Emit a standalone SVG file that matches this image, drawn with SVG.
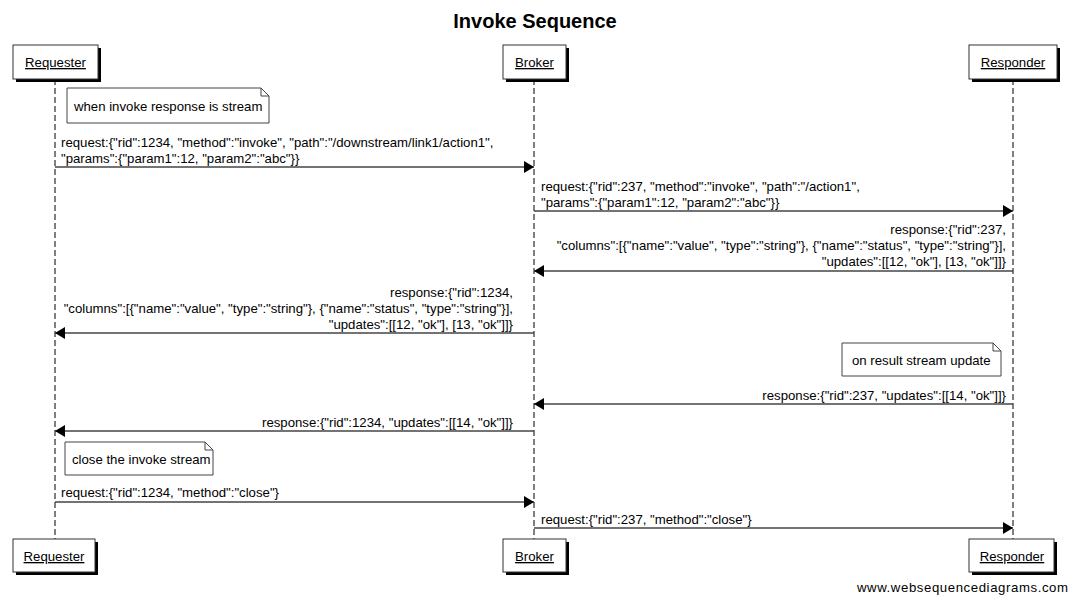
<svg xmlns="http://www.w3.org/2000/svg" width="1071" height="597" viewBox="0 0 1071 597">
<style>
text{font-family:"Liberation Sans",Arial,sans-serif;font-size:13.2px;fill:#000}
.title{font-size:20px;font-weight:bold}
.act{text-decoration:underline}
.box{fill:#fff;stroke:#333;stroke-width:1}
.shadow{fill:#000}
.life{stroke:#000;stroke-width:1;stroke-dasharray:6,3;fill:none}
.msg{stroke:#444;stroke-width:1.5;fill:none}
.note{fill:#fff;stroke:#444;stroke-width:1}
.r{text-anchor:end}
</style>
<defs>
<marker id="ah" viewBox="0 0 10 12" refX="10" refY="6" markerWidth="10" markerHeight="12" markerUnits="userSpaceOnUse" orient="auto">
<path d="M0,0 L10,6 L0,12 Z" fill="#000"/>
</marker>
</defs>
<rect width="1071" height="597" fill="#fff"/>
<text class="title" x="535" y="28" text-anchor="middle">Invoke Sequence</text>
<g id="lifelines">
<line class="life" x1="55" y1="79" x2="55" y2="539"/>
<line class="life" x1="534" y1="79" x2="534" y2="539"/>
<line class="life" x1="1013" y1="79" x2="1013" y2="539"/>
</g>
<g id="requester">
<rect class="shadow" x="16" y="48" width="85" height="34"/>
<rect class="box" x="13" y="45" width="85" height="34"/>
<text class="act" x="55.5" y="67" text-anchor="middle">Requester</text>
<rect class="shadow" x="16" y="542" width="82" height="33"/>
<rect class="box" x="13" y="539" width="82" height="33"/>
<text class="act" x="54" y="561" text-anchor="middle">Requester</text>
</g>
<g id="broker">
<rect class="shadow" x="506" y="48" width="63" height="34"/>
<rect class="box" x="503" y="45" width="63" height="34"/>
<text class="act" x="534.5" y="67" text-anchor="middle">Broker</text>
<rect class="shadow" x="506" y="542" width="63" height="33"/>
<rect class="box" x="503" y="539" width="63" height="33"/>
<text class="act" x="534.5" y="561" text-anchor="middle">Broker</text>
</g>
<g id="responder">
<rect class="shadow" x="972" y="48" width="88" height="34"/>
<rect class="box" x="969" y="45" width="88" height="34"/>
<text class="act" x="1013" y="67" text-anchor="middle">Responder</text>
<rect class="shadow" x="972" y="542" width="85" height="33"/>
<rect class="box" x="969" y="539" width="85" height="33"/>
<text class="act" x="1012" y="561" text-anchor="middle">Responder</text>
</g>
<g id="note1">
<path class="note" d="M67,88 H261 L269,96 V123 H67 Z M261,88 V96 H269"/>
<text x="74" y="111">when invoke response is stream</text>
</g>
<g id="note2">
<path class="note" d="M842,343 H993 L1001,351 V376 H842 Z M993,343 V351 H1001"/>
<text x="852" y="365">on result stream update</text>
</g>
<g id="note3">
<path class="note" d="M65,442 H205 L213,450 V475 H65 Z M205,442 V450 H213"/>
<text x="72" y="464">close the invoke stream</text>
</g>
<g id="connectors">
<line class="msg" x1="55" y1="167" x2="534" y2="167" marker-end="url(#ah)"/>
<line class="msg" x1="534" y1="211" x2="1013" y2="211" marker-end="url(#ah)"/>
<line class="msg" x1="1013" y1="271" x2="534" y2="271" marker-end="url(#ah)"/>
<line class="msg" x1="534" y1="333" x2="55" y2="333" marker-end="url(#ah)"/>
<line class="msg" x1="1013" y1="404" x2="534" y2="404" marker-end="url(#ah)"/>
<line class="msg" x1="534" y1="431" x2="55" y2="431" marker-end="url(#ah)"/>
<line class="msg" x1="55" y1="502" x2="534" y2="502" marker-end="url(#ah)"/>
<line class="msg" x1="534" y1="528" x2="1013" y2="528" marker-end="url(#ah)"/>
</g>
<g id="labels">
<text x="61" y="147">request:{"rid":1234, "method":"invoke", "path":"/downstream/link1/action1",</text>
<text x="61" y="163">"params":{"param1":12, "param2":"abc"}}</text>
<text x="541" y="191">request:{"rid":237, "method":"invoke", "path":"/action1",</text>
<text x="541" y="207">"params":{"param1":12, "param2":"abc"}}</text>
<text class="r" x="1006" y="234">response:{"rid":237,</text>
<text class="r" x="1006" y="250">"columns":[{"name":"value", "type":"string"}, {"name":"status", "type":"string"}],</text>
<text class="r" x="1006" y="266">"updates":[[12, "ok"], [13, "ok"]]}</text>
<text class="r" x="513" y="297">response:{"rid":1234,</text>
<text class="r" x="513" y="313">"columns":[{"name":"value", "type":"string"}, {"name":"status", "type":"string"}],</text>
<text class="r" x="513" y="329">"updates":[[12, "ok"], [13, "ok"]]}</text>
<text class="r" x="1006" y="400">response:{"rid":237, "updates":[[14, "ok"]]}</text>
<text class="r" x="513" y="427">response:{"rid":1234, "updates":[[14, "ok"]]}</text>
<text x="61" y="497">request:{"rid":1234, "method":"close"}</text>
<text x="541" y="524">request:{"rid":237, "method":"close"}</text>
</g>
<text x="857" y="592" font-size="15" textLength="211" lengthAdjust="spacing">www.websequencediagrams.com</text>
</svg>
